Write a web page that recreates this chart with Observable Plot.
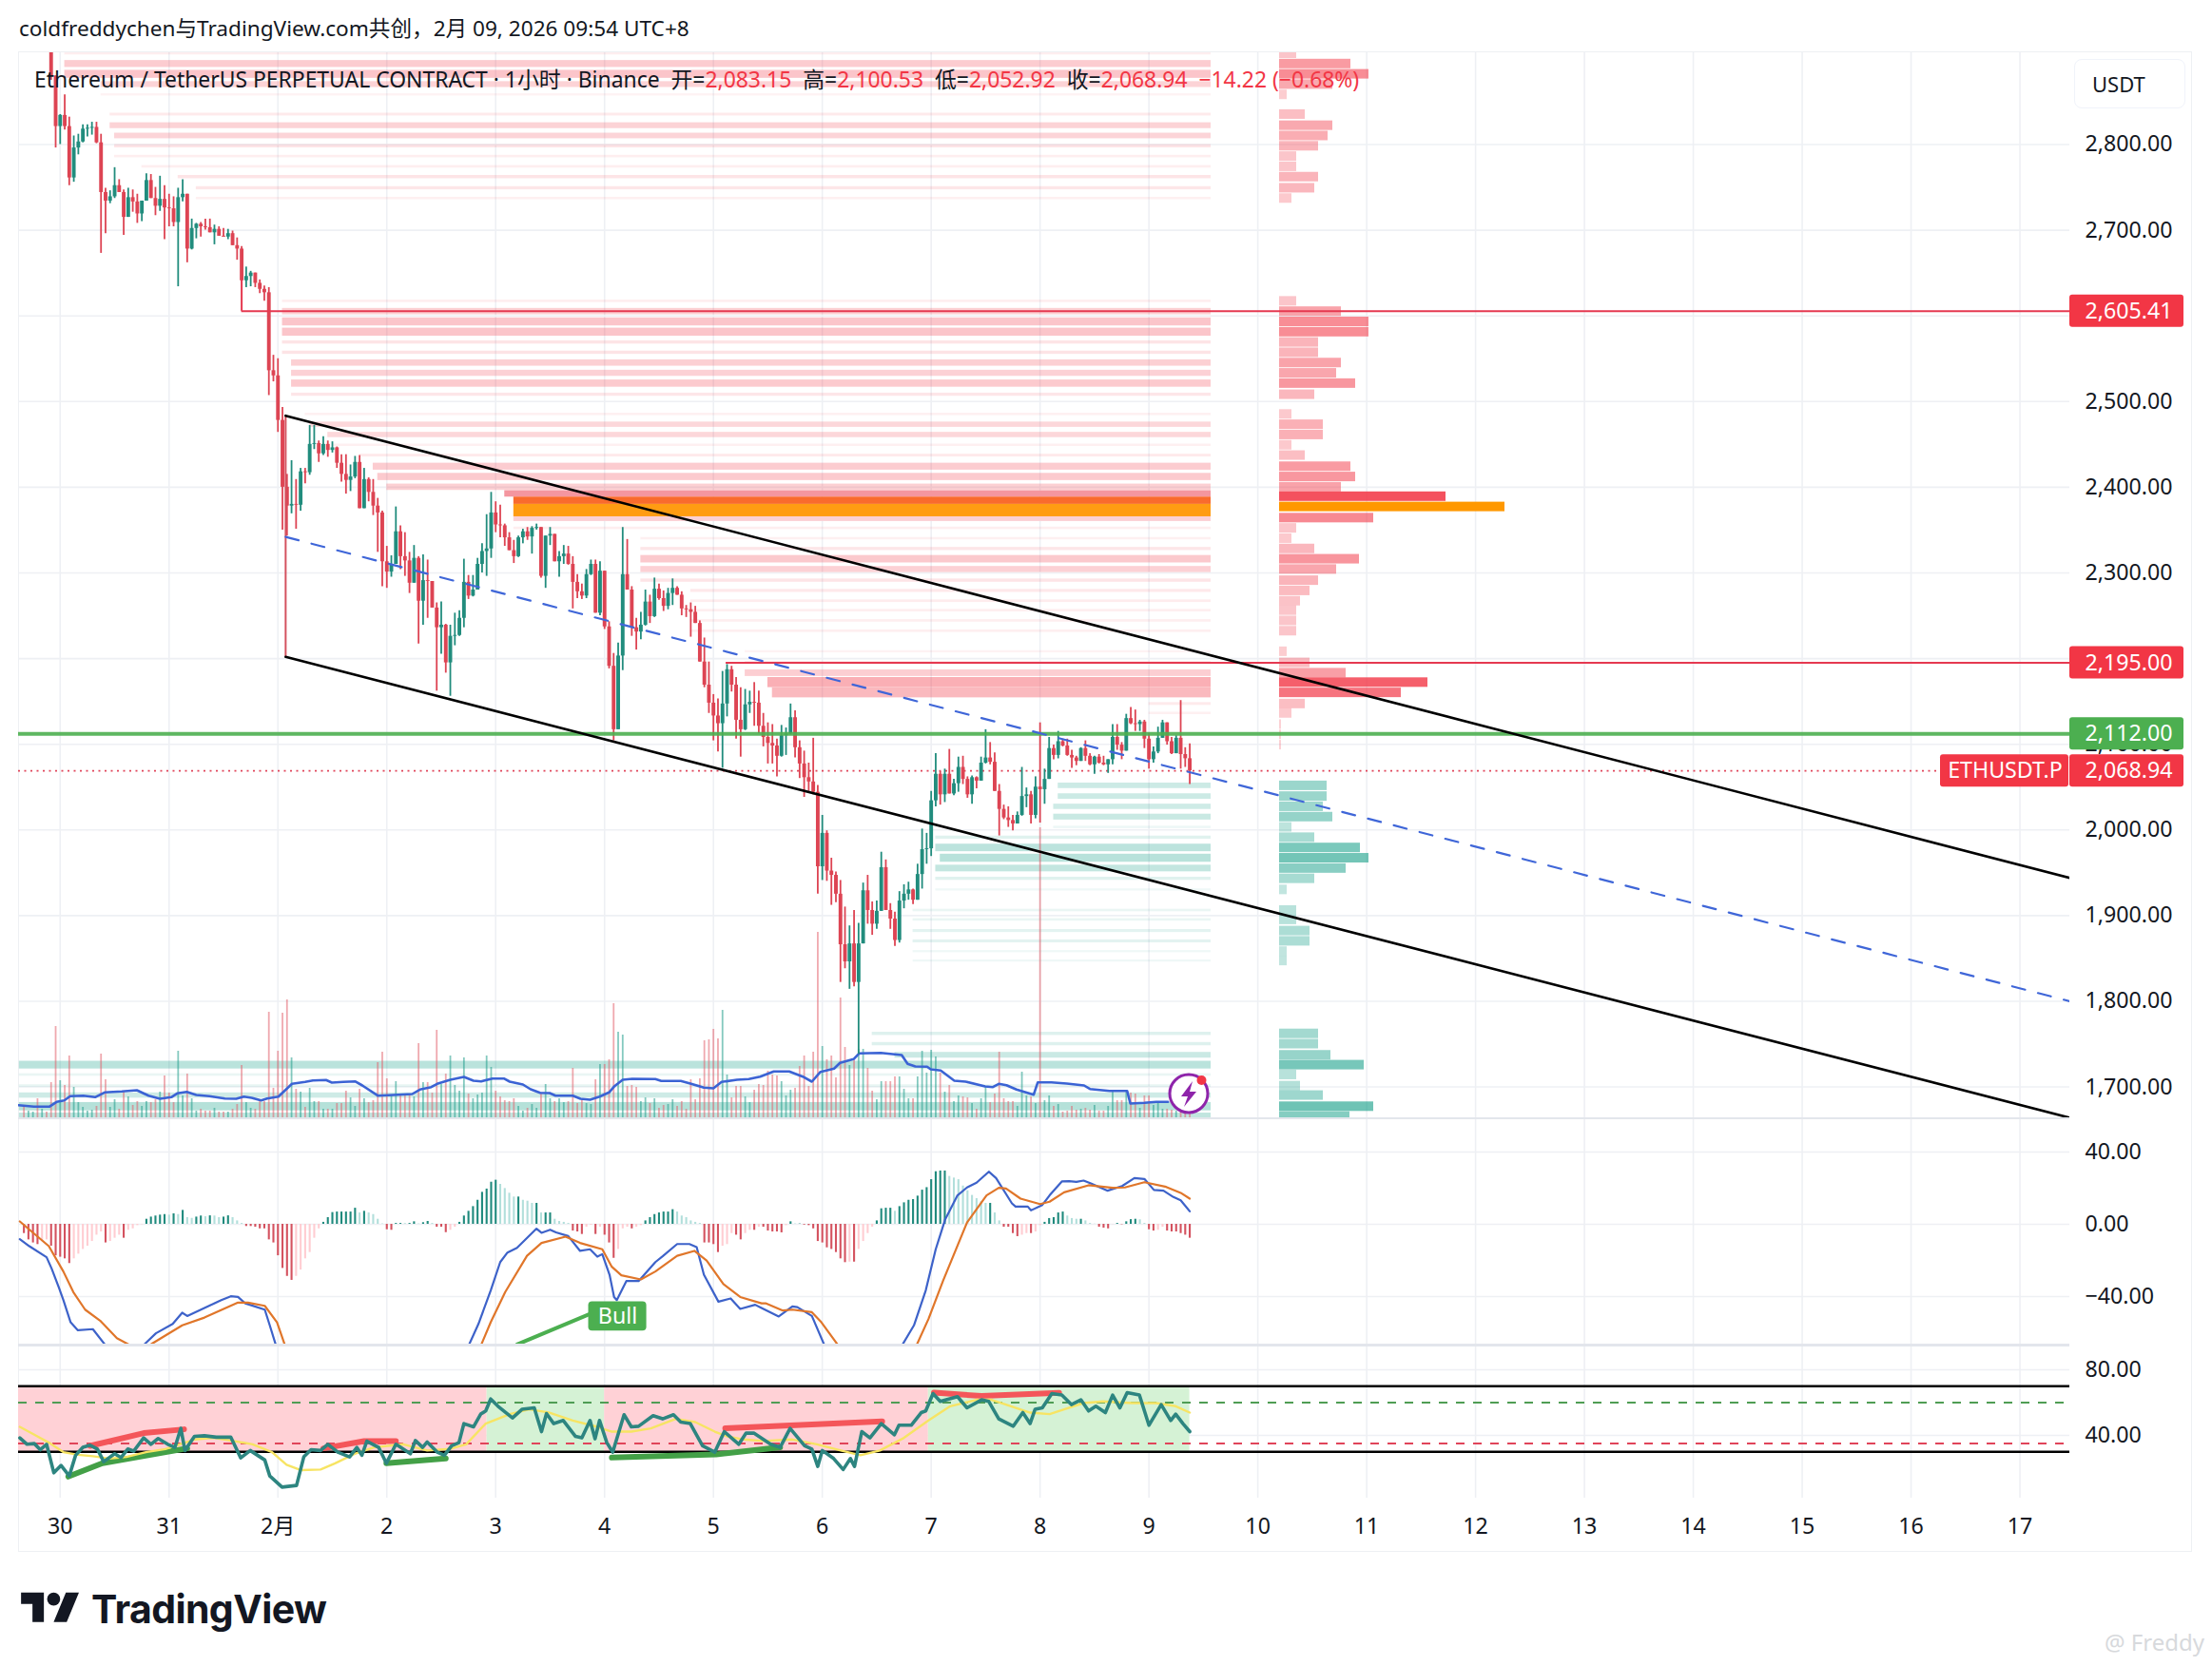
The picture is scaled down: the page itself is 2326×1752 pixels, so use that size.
<!DOCTYPE html>
<html><head><meta charset="utf-8">
<script src="https://cdn.jsdelivr.net/npm/d3@7"></script>
<script src="https://cdn.jsdelivr.net/npm/@observablehq/plot@0.6"></script>
<style>
html,body{margin:0;padding:0;background:#fff}
#page{position:relative;width:2326px;height:1752px;overflow:hidden;background:#fff;font-family:"Noto Sans","Noto Sans CJK SC",sans-serif;color:#131722}
#page svg{position:absolute;max-width:none}
.abs{position:absolute;white-space:pre}
.r{color:#f23645}
</style></head><body><div id="page"></div>
<script>
// ---------- candles (hour index 0 = 30 Jan 00:00 UTC+8; first visible candle is hour -2)
const firstHour = -2;
const firstOpen = 2935;
const closes = [2880,2821,2834,2821,2761,2796,2803,2818,2819,2820,
2802,2744,2734,2739,2752,2744,2715,2738,2733,2719,
2734,2758,2737,2728,2736,2726,2725,2709,2738,2742,
2678,2702,2707,2704,2703,2697,2701,2693,2692,2696,
2682,2678,2641,2646,2650,2638,2631,2627,2536,2530,
2478,2400,2378,2380,2379,2418,2417,2450,2451,2439,
2450,2443,2446,2428,2415,2408,2412,2429,2375,2409,
2394,2378,2370,2313,2301,2310,2348,2319,2314,2288,
2317,2267,2291,2290,2259,2236,2239,2195,2226,2227,
2247,2289,2273,2280,2310,2325,2328,2370,2356,2355,
2341,2326,2319,2341,2348,2342,2352,2353,2296,2343,
2345,2313,2319,2322,2310,2289,2278,2273,2298,2310,
2253,2302,2237,2191,2117,2203,2298,2280,2236,2231,
2239,2266,2249,2281,2270,2261,2276,2282,2274,2258,
2257,2254,2241,2196,2169,2148,2133,2124,2147,2187,
2169,2128,2117,2146,2149,2148,2121,2108,2101,2098,
2086,2110,2112,2131,2096,2077,2061,2056,2044,1957,
1996,1952,1947,1925,1866,1846,1867,1822,1867,1929,
1906,1890,1905,1956,1906,1896,1871,1917,1925,1930,
1918,1948,1977,1978,2034,2065,2041,2065,2042,2054,
2073,2059,2041,2061,2057,2078,2084,2079,2045,2024,
2014,2011,2007,2017,2039,2041,2017,2050,2047,2059,
2095,2087,2103,2098,2087,2084,2080,2095,2086,2076,
2085,2078,2076,2082,2108,2099,2092,2130,2124,2123,
2126,2106,2082,2091,2107,2125,2103,2089,2107,2088,
2083.15,2068.94];
const highs = [2960,2875,2835,2858,2832,2810,2812,2823,2823,2826,
2826,2812,2749,2746,2773,2759,2747,2749,2747,2742,
2734,2766,2765,2750,2763,2752,2742,2739,2749,2759,
2742,2713,2708,2709,2713,2713,2706,2704,2702,2701,
2699,2691,2681,2657,2652,2650,2642,2635,2633,2554,
2550,2493,2415,2431,2409,2422,2422,2472,2472,2454,
2459,2454,2453,2447,2438,2438,2426,2436,2437,2422,
2411,2409,2387,2372,2331,2320,2377,2355,2347,2324,
2332,2319,2321,2315,2288,2265,2266,2240,2239,2253,
2256,2316,2297,2297,2317,2334,2368,2394,2383,2379,
2357,2347,2338,2343,2351,2353,2354,2357,2353,2343,
2353,2345,2325,2332,2331,2319,2298,2287,2304,2315,
2315,2313,2302,2243,2206,2218,2353,2339,2284,2247,
2254,2280,2274,2294,2287,2279,2282,2293,2284,2278,
2262,2265,2261,2244,2224,2196,2158,2153,2185,2193,
2191,2178,2166,2164,2162,2172,2162,2136,2125,2123,
2106,2122,2119,2147,2139,2104,2092,2078,2107,2052,
2017,1999,1967,1951,1941,1910,1888,1906,1891,1938,
1947,1916,1917,1974,1965,1914,1904,1928,1936,1939,
1931,1960,2001,1996,2045,2089,2068,2071,2094,2059,
2085,2086,2062,2063,2062,2085,2117,2102,2090,2053,
2029,2027,2017,2021,2073,2049,2045,2062,2125,2071,
2108,2099,2115,2106,2106,2093,2086,2096,2104,2089,
2086,2088,2086,2082,2123,2123,2102,2135,2143,2140,
2128,2128,2113,2097,2120,2128,2125,2108,2110,2151,
2096,2100.53];
const lows = [2875,2796,2800,2817,2752,2756,2788,2802,2809,2811,
2801,2673,2696,2731,2737,2744,2694,2715,2721,2708,
2710,2734,2737,2717,2722,2689,2704,2704,2634,2733,
2662,2677,2690,2692,2700,2697,2683,2693,2692,2689,
2682,2665,2641,2633,2634,2633,2626,2617,2507,2523,
2464,2350,2343,2369,2351,2372,2404,2414,2444,2429,
2437,2435,2440,2422,2406,2392,2395,2410,2375,2378,
2383,2367,2324,2284,2282,2295,2310,2304,2296,2276,
2288,2217,2239,2247,2259,2162,2205,2183,2156,2215,
2226,2236,2269,2272,2280,2300,2296,2317,2347,2341,
2331,2326,2311,2318,2334,2338,2322,2350,2294,2282,
2332,2313,2295,2310,2309,2258,2270,2269,2270,2297,
2253,2250,2234,2188,2104,2117,2186,2280,2226,2210,
2222,2238,2241,2248,2268,2255,2257,2262,2274,2250,
2248,2225,2241,2196,2166,2136,2104,2091,2072,2132,
2161,2106,2085,2116,2136,2121,2112,2097,2077,2077,
2062,2085,2087,2111,2084,2060,2038,2045,2041,1925,
1941,1940,1912,1915,1822,1838,1814,1817,1738,1867,
1890,1877,1884,1905,1906,1884,1864,1868,1908,1918,
1913,1918,1931,1960,1969,2027,2029,2032,2042,2040,
2044,2053,2037,2030,2048,2057,2077,2076,2045,1993,
2012,2003,1999,2008,2016,2026,2007,2013,2008,2030,
2059,2082,2083,2097,2086,2072,2075,2080,2080,2075,
2065,2077,2075,2066,2076,2093,2082,2092,2123,2115,
2115,2095,2071,2078,2089,2107,2099,2088,2090,2071,
2073,2052.92];
// ---------- volume (thousand ETH, approx.)
const volumesA = [13,8,7,21,10,7,38,97,40,35,66,33,17,12,8,9,13,68,41,12,20,10,28,23,14,18,13,18,17,20,
28,45,27,17,71,24,47,21,8,10,8,8,11,7,7,7,10,15,56,17,11,10,18,18,112,32,71,111,125,64,
31,28,12,32,18,18,10,10,10,16,16,29,22,13,31,21,17,19,59,70,42,24,39,24,25,25,23,79,38,38,
27,93,36,47,66,35,29,64,26,21,25,27,66,54,29,23,19,18,21,13,8,11,15,11,26,36,21,18,21,17,
18,53,16,21,16,15,41,57,57,62,121];
const volumesB = [91,88,34,35,33,18,22,16,21,11,14,15,20,13,18,10,41,20,42,82,83,94,84,114,46,22,34,34,23,17,30,36,
35,50,46,45,39,24,30,32,55,66,34,70,196,76,62,66,43,127,75,56,61,73,73,53,29,20,39,39,39,44,44,31,21,21,44,71,48,72,65,48,28,35,18,24,23,22,16,10,21,34,17,26,70,21,18,18,13,49,24,23,16,306,19,24,13,15,7,8,13,9,10,11,9,14,8,8,13,28,19,19,29,27,26,11,24,24,14,16,10,10,9,8,7,6,5];
const earlyUp = [0,1,1,0,1,0];
const volMaHours = [-9.2,-5.8,-2.4,-0.8,0.9,2.2,5.1,7.7,9.8,13.6,16.9,19.5,22,24.5,25.8,27.9,30,32.9,36.3,38.8,40.5,42.2,44.3,45.6,48.1,51.1,54,55.7,58.6,59.9,62.4,65,66.6,70,73.4,77.6,79.3,81.8,83.1,86,89,91.1,92.8,95.3,97.8,99.1,102,103.7,105.8,107.9,109.2,113,114.7,116.8,118.9,121,122.2,124,126.1,131.2,132.5,136.8,138.9,141.9,144,145.8,149.2,151.8,154.3,157.3,160.7,163.7,165.7,167.6,170.6,171.9,174.9,176.1,180.9,185.5,186.8,188.5,191.1,191.9,194.1,197.1,199.6,203.9,205.6,206.9,208.6,210.8,214.6,215.5,218.5,221.9,225.7,227,231.3,235.2,235.9,239,241.6,244.2];
const volMaValues = [14.3,12.7,12.7,17.7,19.3,23.7,24.3,22.7,27.7,28.7,30,24.3,21,22.7,26.7,28.3,25,23.7,21.3,21,23.3,22,19.3,21.3,23.3,36.7,38.7,40.3,40.7,38,38.7,39.3,35,24.3,25,26,30.7,33.3,36.7,41,44,40,39.3,42.3,42.3,39,36,31,27.3,27,24.3,24.3,21,20,23.3,27.7,34.3,41,42,41.7,39.7,39.7,37,32.7,32,38.7,41,41.7,44.3,49.7,49.7,44.3,39,49.3,52.7,58.7,62.7,68.7,69.3,67,57.7,55,54.7,52,50.7,40,39,34,33.3,36.7,35.3,30.7,25.3,38.3,38.3,37,35,31.3,29.3,29.3,16,16.7,17.7,17.7];
// ---------- volume profile levels
const redPrices = [2906,2894,2882,2870,2858,2835,2822,2810,2798,2786,2774,2762,2749,2737,2617,2605,2593,2581,2569,2557,2545,2533,2521,2508,2485,2473,2461,2449,2437,2424,2412,2400,2389,2377,2364,2352,2340,2328,2316,2304,2291,2279,2267,2256,2244,2232,2208,2195,2183,2172,2160,2147,2136,2123,2111,2099];
const redVolumes = [18,75,94,56,8,27,56,51,41,18,18,41,37,13,18,65,94,94,41,41,65,60,80,37,13,46,46,13,27,75,80,65,175,237,99,18,13,37,84,60,41,32,22,18,18,18,8,32,70,156,128,27,13,2,2,2];
const redStarts = [1,1,1,9,9,11,11,12,12,12,18,26,30,30,49,49,49,49,49,49,51,51,51,51,54,55,59,60,66,69,70,72,98,100,100,100,128,128,128,128,128,139,139,139,139,139,151,151,151,156,157,240,240,250,250,250];
const greenPrices = [2051.5,2039,2027,2015,2003,1991,1979,1967,1955,1943,1930,1906,1895,1882,1870,1858,1847,1762,1750,1737,1725.5,1714,1701,1690,1677,1665.5];
const greenVolumes = [50,50,46,56,13,37,85,94,70,37,8,18,18,32,32,8,8,41,41,54,89,18,22,46,99,74];
const greenStarts = [220,220,219,219,219,193,193,194,193,193,193,188,188,188,188,188,188,179,179,184,-9,-9,-9,-9,-9,-9];
const zoneHigh = [2396,2388.5,2380,2365.5];
const zoneLow = [2388.5,2380,2365.5,2360];
const zoneStart = [98,100,100,100];
const zoneColor = ["#f4969f","#f96b2d","#ff9c12","#fbd0d4"];
const bandEnd = 253.7;
// ---------- drawn levels and lines
const channelHours = [49.7,443];
const channelTop = [2483.5,1944];
const channelMid = [2342,1800];
const channelLow = [2202,1664];
const levels = [2605.41,2195];
const levelStart = [40,146.8];
const support = 2112;
const lastPrice = 2068.94;
const priceTicks = [2800,2700,2600,2500,2400,2300,2200,2100,2000,1900,1800,1700];
const priceLabels = [2800,2700,2500,2400,2300,2100,2000,1900,1800,1700];
// ---------- MACD
const hist = [-5.1,-8.6,-10.3,-11.2,-9.5,-8.6,-12.1,-17.4,-18.2,-19.1,-21.7,-19.1,-16.5,-13.9,-12.1,-9.5,-6,-4.2,-10.3,-9.5,-7.7,-6,-7.7,-3.3,-2.5,-0.7,-0.2,
2.8,4,4.6,5.1,5.4,5.1,5.8,5.4,7.7,3.7,3.3,4,4.6,4.2,4.7,4.6,3.7,4,4.7,3.7,1.9,0.5,
-1.2,-1.2,-1.6,-2.5,-2.5,-8.6,-10.3,-17.4,-24.4,-28.8,-31,-28.8,-25.3,-19.1,-15.6,-7.7,-2.5,
1.1,3.7,6.5,6.8,6.8,6.8,6.8,8.9,6.3,7.2,6.3,5.4,2.8,0.2,
-3,-3.3,0.5,0.5,0.4,0.5,1.4,0.2,0.9,1.6,0.5,-1.6,-1.6,-4.6,-3.3,-1.6,
1.1,4.6,7.2,9.8,13.3,17.7,19.5,23.3,24.4,22.1,19.8,17.2,15.1,15.1,13.3,12.8,11.6,11.6,6.3,6.3,6.3,2.8,1.6,1.1,0.5,
-3.7,-4.2,-5.6,-1.6,-0.5,-5.6,-1.6,-6,-10.3,-18.8,-13.9,-2.5,-1.6,-2.5,-1.6,-0.7,
1.9,3.7,5.4,6.3,6.8,6.8,8.1,6.8,4.6,3.7,1.9,1.1,0.5,
-10.3,-10.3,-11.2,-15.6,-12.1,-11.2,-5.1,-6,-8.6,-5.1,-3.3,-3.3,
-1.6,-1.6,-3.7,-4.2,-4.2,-4.7,-0.7,1.4,0.2,0.2,-0.4,-0.7,-2.5,-9.5,-10.3,-13,-13.9,-15.6,-19.1,-21.2,-20.9,-20.9,-13.9,-9.5,-5.1,-1.6,
1.9,8.6,8.9,8.9,7.2,9.8,11.9,13.3,13.7,15.6,18.9,20.3,24.7,29.1,29.5,29.5,26.5,25.6,24.7,21.2,18.6,16,14.2,12.5,11.6,11.6,6.3,1.9,
-1.6,-1.6,-5.1,-6.8,-6,-5.1,-5.1,-4.2,-0.7,1.1,3.2,3.7,6.3,6.8,4.6,3.2,2.8,2.8,1.9,0.5,0.1,-1.6,-2.1,-2.5,-0.1,0.5,-0.2,1.4,2.6,2.8,2.5,0.5,-3,-3.7,-3.3,-1.6,-3.7,-4.2,-4.2,-5.1,-6,-7.7];
const macdHours = [-8.9,-6.8,-3,-1.9,-0.3,0.7,2.3,3.9,7.2,10.1,12.5,15.7,18.5,21.1,24.8,26.9,28,31.8,35.5,37.6,39.2,40.8,45.1,46.2,47.6,51,83.1,90,92.2,94.9,97,98.6,100.7,105,106.1,108,109.3,112,114.6,116.8,118.4,119.5,121.1,122.1,122.7,124.8,127.5,131.2,132.8,136,138.7,140.3,141.9,145.1,147.8,149.9,153.2,154.6,158.4,161.4,162.5,165.7,168.4,170,183.9,185.5,188.2,190.8,193,195.1,197.8,199.9,202,204.7,206.3,209.8,210.6,213.3,214,216.5,218.1,220.8,222.4,224,225.6,227.2,230.9,234.1,236.8,239,241.1,243.2,245.4,247,249];
const macdValues = [-8.2,-12.1,-18.2,-24.4,-34.9,-41.9,-54.2,-58.6,-58,-67.3,-77,-77,-66.5,-60.3,-55.1,-48.9,-50.7,-46.3,-41.9,-39.8,-40.2,-43.7,-47.2,-55.9,-67.3,-80.5,-80.5,-67.3,-55.1,-36.6,-20.9,-15.6,-13,-2.4,-4.7,-3,-4.5,-6.5,-14.7,-13.8,-17.9,-16.5,-27.9,-40.2,-41.9,-31.4,-31.4,-20.9,-17.7,-10.9,-10.9,-12.6,-27.9,-42.8,-41,-46.8,-44.5,-46.3,-51,-45.4,-45.8,-50.7,-66.5,-78.7,-78.7,-67.3,-55.9,-36.6,-13.8,2.8,16,20.4,23,29.1,25.6,11.6,9.8,9.8,7.7,10.7,16,23.7,23.9,23.5,24.2,22.6,18.6,21.2,25.6,25.1,19,18.6,15.1,13.3,7.2];
const signalHours = [-8.9,-2.5,0.7,2.9,5.5,8.8,12.5,15.7,18.9,20.5,26.9,31.8,39.2,41.4,45.1,47.8,49.6,53.1,88.4,92.7,94.9,98.1,102.9,106.1,111.4,114.6,119.5,121.6,123.7,128,131.2,136,139.8,142.5,146.2,149.9,154.6,155.5,159.3,161.4,165.7,167.8,171.6,176.4,187.1,188.7,191.4,194.6,199.9,204.2,206.9,208.5,211.7,216,218.1,221.3,226.7,232,234.7,239,243.8,247,249];
const signalValues = [1.6,-12.1,-26.1,-37.5,-47.2,-53.3,-63,-67.3,-68.2,-65.6,-55.9,-51.6,-43.3,-43.3,-45.1,-54.2,-67.3,-80.5,-80.5,-67.3,-54.2,-37.5,-17.4,-10.3,-6.8,-10.3,-13.8,-23.5,-28.2,-30.5,-26.1,-17.4,-14.7,-20,-33.1,-40.2,-43.7,-43.7,-47.7,-47.2,-48.6,-54.2,-67.3,-78.7,-78.7,-67.3,-52.4,-31.4,1,16,20.2,19.8,14.2,11.2,12.5,17.7,21.6,20.2,20.4,23.3,20.7,17.4,14.2];
const macdTicks = [40,0,-40];
const macdLabels = ["40.00","0.00","−40.00"];
const bullHours = [100.7,116.6];
const bullValues = [-66.5,-49.8];
const bullBoxHours = [116.5,129.3];
const bullBoxValues = [-59,-42.8];
// ---------- RSI
const rsiHours = [-8.9,-7.3,-5.7,-4.4,-3,-1.4,0.2,2,3.4,5,6.6,8.2,9.6,12,13.4,14.9,16.2,18.4,20,21.6,23.7,25.3,26.6,27.5,29.6,31.8,34.4,37.6,39.8,41.9,45.1,46.2,48.9,52.1,53.7,55.3,57.4,59,61.2,63.8,65.4,66.5,67.6,70.2,71.9,74,75.6,77.2,78.3,79.9,80.9,83.1,84.7,86.3,87.9,89,91.1,92.7,93.8,94.9,96.5,99.7,101.8,104.5,106.1,107.2,108.8,110.9,113.6,115,116.8,117.9,118.9,120.5,121.8,124.3,125.9,127.5,130.7,132.8,135.2,136.8,138.9,141.6,144.3,146.4,149.6,151.2,152.9,156.6,158.7,160.9,164.1,165.7,167,168,170.5,172.6,174.2,175.1,176.7,178.5,181,183.9,184.9,187.6,189.8,190.8,192.4,194,197.8,199.9,203.1,204.7,206.9,210.1,212.2,213.8,214.9,216.5,218.6,220.8,222.9,225,226.7,228.3,230.4,232,233.6,235.2,237.9,240,242.7,244.8,245.9,247.5,249];
const rsiValues = [38.5,34.6,35,31.3,34.6,17.2,21.7,15.3,27.9,32.7,34,31.7,24,28.8,26.5,31.7,30.4,38.5,34.6,38.1,34.6,32.7,44.3,30.8,39.4,39.8,38.9,39,26.3,30.8,25,15.3,8.5,9.5,26.9,31.3,30.8,34.6,29.8,26.9,32.7,27.9,36.5,32.7,23,34.6,31.7,28.8,36.9,32.7,36,29.8,27.9,33.7,35.6,47.2,45.2,53,54.9,62.2,57.8,50.7,55.9,56.8,42.3,53.3,47.2,49.1,39.4,38.5,49.1,37.9,49.1,35.6,29.8,52.6,45.2,45.6,52,50.1,52.6,48.1,47.2,33.7,29.8,42.3,34.6,41.4,41.4,34.6,32.7,44.3,33.7,31.7,21.1,30.8,25.9,19.2,25.9,21.1,42.3,38.5,47.2,40.4,46.2,46.2,53.9,54.9,65.5,60.7,63.6,56.8,61.7,60.7,50.1,45.6,53.9,47.2,55.9,56.8,65.5,64.6,58.8,61.7,54.9,57.8,53.9,64.6,56.8,66.1,64.6,46.2,58.8,49.1,53,47.2,42.3];
const rsiMaHours = [-8.9,-5.7,-2.5,0.7,3.9,7.2,10.9,14.6,18.9,23.2,26.9,29.6,33.9,38.2,42.4,46.7,49.9,53.1,57.4,60.6,64.9,69.2,75.6,80.9,85.8,89.5,93.8,99.1,103.4,107.7,113,118.4,121.6,125.9,130.2,135.7,140,144.3,147,150.7,155,161.4,166.8,172.1,176.4,180.7,186,191.4,196.2,202,205.3,208.5,213.8,218.1,221.3,225.6,229.9,236.3,241.6,245.9,249];
const rsiMaValues = [45.2,40.4,35.6,29.8,28.2,27.3,25.9,26.9,29.8,31.7,35,37.5,38.5,36.6,34.6,29.8,22.1,18.8,19.2,23,28.8,32.7,34.6,30.8,31.7,34.6,47.2,53,55.9,54,49.1,45.2,42.3,42.3,44.3,50.1,48.1,42.3,39.4,37.5,36.6,37.5,34.6,30.8,27.9,30.8,38.5,49.1,57.8,61.7,61.7,58.8,53.9,53,55.9,59.7,60.7,59.7,59.7,57.8,53.9];
const rsiTicks = [80,40];
const rsiBounds = [70,30];
const rsiDash = [{v:60,c:"#4f9d54"},{v:35,c:"#e0455a"}];
const rsiZoneStart = [-9.18,94.1,120,191.4];
const rsiZoneEnd = [94.1,120,191.4,249];
const rsiZoneColor = ["#ffd1d6","#d5f2d5","#ffd1d6","#d5f2d5"];
const bullDivs = [[[1.8,14.9],[9.3,23],[28,32.1]],[[71.9,23],[85,25.9]],[[121.6,26.5],[144.6,28.4],[158.7,32.7]]];
const bearDivs = [[[6.6,33.6],[18.4,41.4],[27.3,43.7]],[[58,32.1],[67,36.5],[74,36.5]],[[146.6,44.3],[181.2,48.5]],[[192.6,66.1],[203.1,64],[220.2,65.9]]];
// ---------- time axis
const dayHours = d3.range(0,433,24);
const dayLabels = ["30","31","2月","2","3","4","5","6","7","8","9","10","11","12","13","14","15","16","17"];

// ---------- tables
const candles = closes.map((c,i)=>{
  const open = i? closes[i-1] : firstOpen;
  return {h:firstHour+i,open,close:c,high:Math.max(highs[i],open,c),low:Math.min(lows[i],open,c),up:c>=open};
});
const candleUp = new Map(candles.map(d=>[d.h,d.up]));
const volumes = [...volumesA.map((v,i)=>({h:-8+i,v})),...volumesB.map((v,i)=>({h:123+i,v}))]
  .map(d=>({...d,up:d.h<-2?!!earlyUp[d.h+8]:candleUp.get(d.h)}));
const bars = hist.map((v,i)=>{const p=i?hist[i-1]:v;return {h:-8+i,v,c:v>=0?(v>=p?"#1f8a7d":"#b2dfdb"):(v<=p?"#d4525f":"#ffcdd2")}});
const volMa = volMaHours.map((h,i)=>({h,v:volMaValues[i]}));
const macd = macdHours.map((h,i)=>({h,v:macdValues[i]}));
const signal = signalHours.map((h,i)=>({h,v:signalValues[i]}));
const rsi = rsiHours.map((h,i)=>({h,v:rsiValues[i]}));
const rsiMa = rsiMaHours.map((h,i)=>({h,v:rsiMaValues[i]}));
const perUnit = 0.901;
const bandAlpha = w=> w<45 ? .05+.002*w : Math.min(.42,.2+(w-45)*.0018);
const bandThick = w=> w<45 ? 2+w*.035 : Math.min(10.6,5.5+(w-45)*.06);
const mkBands = (ps,vs,ss,col)=>ps.map((p,i)=>{const t=bandThick(vs[i])/perUnit/2;return {p,w:vs[i],s:ss[i],hi:p+t,lo:p-t,col}});
const bands = [...mkBands(redPrices,redVolumes,redStarts,"#f23645").filter(d=>![2389,2377,2364].includes(d.p)&&d.w>2),...mkBands(greenPrices,greenVolumes,greenStarts,"#089981")];
const profile = [...redPrices.map((p,i)=>({p,w:redVolumes[i],col:p===2377?"#ff9800":"#f23645",a:p===2377?1:Math.min(.88,.22+redVolumes[i]*.0037)})),
                 ...greenPrices.map((p,i)=>({p,w:greenVolumes[i],col:"#089981",a:Math.min(.85,.22+greenVolumes[i]*.0037)}))];
const zones = zoneHigh.map((hi,i)=>({hi,lo:zoneLow[i],s:zoneStart[i],c:zoneColor[i]}));

// ---------- layout
const page = document.getElementById("page");
const xDomain = [-9.18,443], yDomain = [1662.9,2907.1];
const FONT = '"Noto Sans","Noto Sans CJK SC",sans-serif';
const TXT = 23.2;
function add(top,left,opts){
  const svg = Plot.plot({
    marginTop:0,marginBottom:0,marginLeft:0,marginRight:0,
    color:{type:"identity"},opacity:{type:"identity"},
    ...opts,
    style:{background:"transparent",overflow:"visible",fontFamily:FONT,position:"absolute",top:top+"px",left:left+"px",maxWidth:"none"}
  });
  page.appendChild(svg);
  return svg;
}
const frameOpts = (height,yd)=>({width:2326,height,marginLeft:19,marginRight:150,x:{domain:xDomain,axis:null},y:{domain:yd,axis:null}});
const gridV = ()=>Plot.ruleX(dayHours,{stroke:"#eef0f4",strokeWidth:1.6});
const gridH = t=>Plot.ruleY(t,{stroke:"#eef0f4",strokeWidth:1.6});

// outer frame
const frame=document.createElement("div");
frame.style.cssText="position:absolute;left:19px;top:54px;width:2286px;height:1578px;border:1.5px solid #eef0f3;box-sizing:border-box";
page.appendChild(frame);

// main: grid + bands
add(55,0,{...frameOpts(1121,yDomain),marks:[
  gridV(),gridH(priceTicks),
  Plot.rect(bands,{x1:"s",x2:()=>bandEnd,y1:"lo",y2:"hi",fill:"col",fillOpacity:d=>bandAlpha(d.w),clip:true}),
  Plot.rect(zones,{x1:"s",x2:()=>bandEnd,y1:"lo",y2:"hi",fill:"c",clip:true})
]});
// profile histogram at right of bands
add(55,0,{width:1345+300,height:1121,marginLeft:1345,x:{domain:[0,300],axis:null},y:{domain:yDomain,axis:null},marks:[
  Plot.rect(profile,{x1:()=>0,x2:"w",y1:d=>d.p-5/perUnit,y2:d=>d.p+5/perUnit,fill:"col",fillOpacity:"a",clip:"frame"})
]});
// volume overlay
add(55,0,{...frameOpts(1121,[0,1121]),marks:[
  Plot.ruleX(volumes.filter(d=>!d.up),{x:"h",y1:()=>0,y2:"v",stroke:"#e2616b",strokeOpacity:.55,strokeWidth:1.8,clip:true}),
  Plot.ruleX(volumes.filter(d=>d.up),{x:"h",y1:()=>0,y2:"v",stroke:"#1f9c8a",strokeOpacity:.55,strokeWidth:1.8,clip:true}),
  Plot.line(volMa,{x:"h",y:"v",stroke:"#3b63d4",strokeWidth:2.6,clip:true})
]});
// candles + drawings
const up = candles.filter(d=>d.up), dn = candles.filter(d=>!d.up);
const RED="#dd4453",GRN="#218c7d";
add(55,0,{...frameOpts(1121,yDomain),marks:[
  Plot.ruleY([lastPrice],{x1:()=>xDomain[0],x2:()=>414.5,stroke:"#e0455a",strokeDasharray:"2 4.5",strokeWidth:1.8}),
  Plot.ruleX(dn,{x:"h",y1:"low",y2:"high",stroke:RED,strokeWidth:1.8,clip:true}),
  Plot.ruleX(up,{x:"h",y1:"low",y2:"high",stroke:GRN,strokeWidth:1.8,clip:true}),
  Plot.ruleX(dn,{x:"h",y1:"open",y2:"close",stroke:RED,strokeWidth:3.9,clip:true}),
  Plot.ruleX(up,{x:"h",y1:"open",y2:"close",stroke:GRN,strokeWidth:3.9,clip:true}),
  Plot.ruleY([support],{stroke:"#4caf50",strokeWidth:4,strokeOpacity:.9}),
  Plot.ruleY(levels,{x1:(d,i)=>levelStart[i],x2:()=>xDomain[1],stroke:"#e53950",strokeWidth:2}),
  Plot.ruleX([levelStart[0]],{y1:()=>levels[0],y2:()=>2642,stroke:"#e53950",strokeWidth:2}),
  Plot.ruleX([channelHours[0]],{y1:()=>channelLow[0],y2:()=>channelTop[0],stroke:"#d4525f",strokeWidth:2}),
  Plot.line(channelHours.map((h,i)=>({h,p:channelMid[i]})),{x:"h",y:"p",stroke:"#3f66d8",strokeWidth:2.2,strokeDasharray:"14 14",clip:true}),
  Plot.line(channelHours.map((h,i)=>({h,p:channelTop[i]})),{x:"h",y:"p",stroke:"#000",strokeWidth:2.6,clip:true}),
  Plot.line(channelHours.map((h,i)=>({h,p:channelLow[i]})),{x:"h",y:"p",stroke:"#000",strokeWidth:2.6,clip:true}),
  Plot.text(priceLabels,{y:d=>d,frameAnchor:"right",dx:16,textAnchor:"start",text:d=>d3.format(",.2f")(d),fontSize:TXT,fill:"#131722"})
]});
// price tags
const tagH = 17/perUnit;
const tags = [{p:2605.41,c:"#f23645"},{p:2195,c:"#f23645"},{p:2112,c:"#4caf50"},{p:2068.94,c:"#f23645"}];
add(55,0,{width:2296,height:1121,marginLeft:2040,x:{domain:[-136,120],axis:null},y:{domain:yDomain,axis:null},marks:[
  Plot.rect(tags,{x1:()=>0,x2:()=>120,y1:d=>d.p-tagH,y2:d=>d.p+tagH,fill:"c",rx:3}),
  Plot.rect([lastPrice],{x1:()=>-136,x2:()=>-1,y1:d=>d-tagH,y2:d=>d+tagH,fill:"#f23645",rx:3}),
  Plot.text(tags,{x:()=>16,y:"p",textAnchor:"start",text:d=>d3.format(",.2f")(d.p),fill:"#fff",fontSize:TXT}),
  Plot.text([lastPrice],{x:()=>-68,y:d=>d,text:()=>"ETHUSDT.P",fill:"#fff",fontSize:TXT})
]});
// MACD
add(1176,0,{...frameOpts(238,[-66.8,58.4]),marks:[
  gridV(),gridH(macdTicks),
  Plot.ruleX(bars,{x:"h",y1:()=>0,y2:"v",stroke:"c",strokeWidth:2.1,clip:true}),
  Plot.line(macd,{x:"h",y:"v",stroke:"#3d62c9",strokeWidth:2.2,clip:true}),
  Plot.line(signal,{x:"h",y:"v",stroke:"#e0762a",strokeWidth:2.2,clip:true}),
  Plot.line(bullHours.map((h,i)=>({h,v:bullValues[i]})),{x:"h",y:"v",stroke:"#4caf50",strokeWidth:4,clip:true}),
  Plot.rect([0],{x1:()=>bullBoxHours[0],x2:()=>bullBoxHours[1],y1:()=>bullBoxValues[0],y2:()=>bullBoxValues[1],fill:"#4caf50",rx:4}),
  Plot.text(["Bull"],{x:()=>d3.mean(bullBoxHours),y:()=>d3.mean(bullBoxValues),fill:"#fff",fontSize:TXT}),
  Plot.text(macdTicks,{y:d=>d,frameAnchor:"right",dx:16,textAnchor:"start",text:(d,i)=>macdLabels[i],fontSize:TXT,fill:"#131722"})
]});
// RSI
const divLine = (arr,col)=>arr.map(pts=>Plot.line(pts,{x:d=>d[0],y:d=>d[1],stroke:col,strokeWidth:6,clip:true}));
add(1414,0,{...frameOpts(161,[1.74,95.07]),marks:[
  gridV(),gridH(rsiTicks),
  Plot.rect(rsiZoneStart,{x1:d=>d,x2:(d,i)=>rsiZoneEnd[i],y1:()=>rsiBounds[1],y2:()=>rsiBounds[0],fill:(d,i)=>rsiZoneColor[i],clip:true}),
  ...rsiDash.map(d=>Plot.ruleY([d.v],{stroke:d.c,strokeWidth:2,strokeDasharray:"9 9"})),
  Plot.ruleY(rsiBounds,{stroke:"#000",strokeWidth:2.6}),
  ...divLine(bullDivs,"#43a047"),
  ...divLine(bearDivs,"#f4565a"),
  Plot.line(rsiMa,{x:"h",y:"v",stroke:"#f7e463",strokeWidth:2.4,clip:true}),
  Plot.line(rsi,{x:"h",y:"v",stroke:"#2d8580",strokeWidth:3.6,clip:true}),
  Plot.text(rsiTicks,{y:d=>d,frameAnchor:"right",dx:16,textAnchor:"start",text:d=>d.toFixed(2),fontSize:TXT,fill:"#131722"})
]});
// separators
[[1175,1.5],[1413,2.5]].forEach(([t,h])=>{const s=document.createElement("div");s.style.cssText=`position:absolute;left:19px;top:${t}px;width:2157px;height:${h}px;background:#e3e6ec`;page.appendChild(s);});
// time axis
add(1575,0,{...frameOpts(57,[0,1]),marks:[
  Plot.text(dayHours,{x:d=>d,frameAnchor:"middle",dy:2,text:(d,i)=>dayLabels[i],fontSize:TXT,fontWeight:(d,i)=>dayLabels[i]==="2月"?700:400,fill:"#131722"})
]});

// texts
function html(s,css){const e=document.createElement("div");e.className="abs";e.style.cssText=css;e.innerHTML=s;page.appendChild(e);return e;}
html("coldfreddychen与TradingView.com共创，2月 09, 2026 09:54 UTC+8","left:20px;top:14px;font-size:22.6px;line-height:32px");
html('Ethereum / TetherUS PERPETUAL CONTRACT · 1小时 · Binance  开=<span class="r">2,083.15</span>  高=<span class="r">2,100.53</span>  低=<span class="r">2,052.92</span>  收=<span class="r">2,068.94</span>  <span class="r">−14.22 (−0.68%)</span>',"left:36px;top:68px;font-size:22.9px;line-height:32px");
html('USDT',"left:2181px;top:62px;width:117px;height:52px;border:1.5px solid #f0f3fa;border-radius:8px;box-sizing:border-box;padding-left:18px;font-size:22px;line-height:50px");
// logo
page.insertAdjacentHTML("beforeend",`<svg style="left:22px;top:1668px" width="62" height="48" viewBox="0 0 36 28"><path fill="#131722" d="M14 22H7V11H0V4h14v18zM28 22h-8l7.5-18h8L28 22z"/><circle fill="#131722" cx="20" cy="8" r="4"/></svg>`);
html("TradingView",'left:96px;top:1664px;font-family:Inter,"Noto Sans",sans-serif;font-weight:700;font-size:41px;line-height:56px;color:#131722;letter-spacing:-.6px');
html("@ Freddy","left:2213px;top:1711px;font-size:24px;line-height:32px;color:#d7d9dc");
// replay badge
page.insertAdjacentHTML("beforeend",`<svg style="left:1224px;top:1124px" width="52" height="52" viewBox="0 0 52 52"><circle cx="26" cy="26" r="20" fill="#fff" stroke="#8e24aa" stroke-width="3"/><path d="M30 13L18 29h7l-4 11 13-16h-7z" fill="#8e24aa"/><circle cx="39.5" cy="12" r="5" fill="#f23645"/></svg>`);
</script></body></html>
